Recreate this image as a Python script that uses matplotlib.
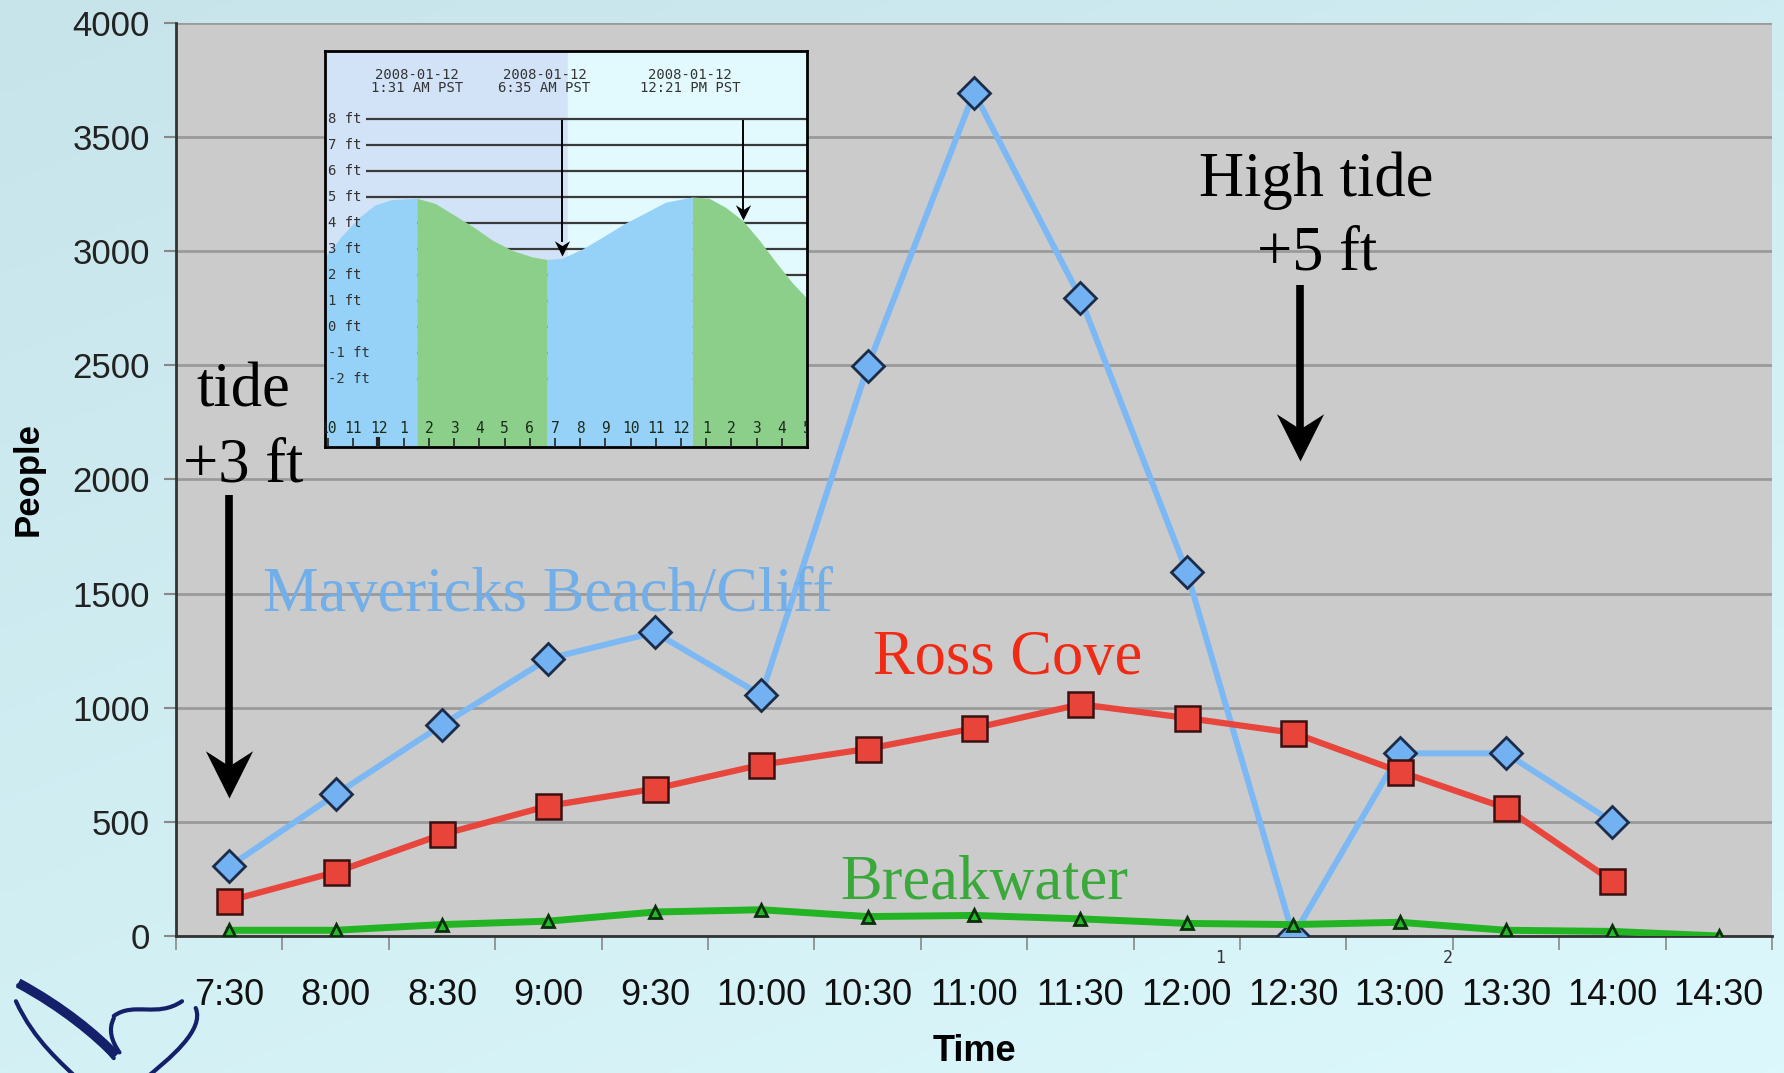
import numpy as np
import matplotlib
matplotlib.use('Agg')
import matplotlib.pyplot as plt
from matplotlib.path import Path
from matplotlib.patches import PathPatch
from matplotlib.colors import LinearSegmentedColormap

# ---- data ----
times = ['7:30', '8:00', '8:30', '9:00', '9:30', '10:00', '10:30', '11:00',
         '11:30', '12:00', '12:30', '13:00', '13:30', '14:00', '14:30']
mavericks = [305, 620, 925, 1215, 1330, 1055, 2495, 3695, 2795, 1595, 0, 800, 800, 500]
ross_cove = [155, 280, 445, 570, 645, 750, 820, 910, 1015, 955, 890, 720, 560, 240]
breakwater = [25, 25, 50, 65, 105, 115, 85, 90, 75, 55, 50, 60, 25, 20, 0]

# tide inset (hours from midnight, feet)
tide_hours = [-2.12, -1.46, -0.79, -0.13, 0.53, 1.52, 2.25, 3.18, 3.84, 4.5, 5.3, 6.09, 6.69,
              7.28, 8.08, 8.87, 9.8, 10.6, 11.39, 12.45, 13.11, 13.77, 14.44, 15.1, 15.76,
              16.42, 17.0]
tide_ft = [2.7, 3.5, 4.2, 4.7, 4.9, 4.95, 4.75, 4.2, 3.8, 3.35, 2.95, 2.7, 2.6,
           2.65, 3.0, 3.45, 4.0, 4.4, 4.8, 5.0, 4.95, 4.6, 4.1, 3.35, 2.5,
           1.7, 1.1]
tide_turns = [1.52, 6.69, 12.45]
tide_dates = ['2008-01-12\n1:31 AM PST', '2008-01-12\n6:35 AM PST', '2008-01-12\n12:21 PM PST']
tide_date_hours = [1.52, 6.58, 12.35]
ft_levels = [8, 7, 6, 5, 4, 3, 2, 1, 0, -1, -2]
hour_ticks = list(range(-2, 18))
hour_labels = [str((h - 1) % 12 + 1) for h in hour_ticks]

BLUE = '#7cb8f4'
RED = '#e8453c'
GREEN = '#22b422'

fig = plt.figure(figsize=(17.84, 10.73), dpi=100)

# background gradient
bg = fig.add_axes([0, 0, 1, 1], zorder=-10)
gx, gy = np.meshgrid(np.linspace(0, 1, 200), np.linspace(0, 1, 200))
grad = 0.6 * gy + 0.4 * (1 - gx)
cmap_bg = LinearSegmentedColormap.from_list('bg', ['#dcf8fc', '#c6e4ea'])
bg.imshow(grad, cmap=cmap_bg, aspect='auto', extent=[0, 1, 0, 1], origin='lower')
bg.axis('off')

ax = fig.add_axes([0.0987, 0.1277, 0.8946, 0.8509])
ax.set_facecolor('#cbcbcb')
x = np.arange(len(times))

ax.plot(x[:len(mavericks)], mavericks, color=BLUE, lw=4.3, marker='D', ms=16,
        mfc='#72b2f2', mec='#1c2c48', mew=2, zorder=3)
ax.plot(x[:len(ross_cove)], ross_cove, color=RED, lw=4.5, marker='s', ms=18,
        mfc='#e8443a', mec='#3a1010', mew=1.8, zorder=4)
ax.plot(x, breakwater, color=GREEN, lw=5, marker='^', ms=9,
        mfc='#2cb82c', mec='#0a300a', mew=2, zorder=5)

ax.set_xlim(-0.5, 14.5)
ax.set_ylim(0, 4000)
ax.set_yticks(np.arange(0, 4001, 500))
ax.set_xticks(x)
ax.set_xticklabels(times, family='Liberation Sans', fontsize=26, color='#111111')
ax.set_xticks(np.arange(-0.5, 14.6, 1), minor=True)
ax.tick_params(axis='x', which='major', length=0, pad=30)
ax.tick_params(axis='x', which='minor', length=10, color='#888888', width=1.2)
ax.tick_params(axis='y', length=9, color='#888888', width=1.5, pad=10,
               labelsize=25, labelcolor='#222222')
for lab in ax.get_yticklabels():
    lab.set_family('Liberation Sans')
ax.grid(axis='y', color='#9a9a9a', lw=2)
ax.set_axisbelow(True)
for s in ['top', 'right']:
    ax.spines[s].set_visible(False)
for s in ['left', 'bottom']:
    ax.spines[s].set_color('#333333')
    ax.spines[s].set_linewidth(2)

ax.set_ylabel('People', fontsize=25, fontweight='bold', family='Liberation Sans')
ax.yaxis.set_label_coords(-0.093, 0.5)
ax.yaxis.label.set_va('center')
ax.set_xlabel('Time', fontsize=26, fontweight='bold', family='Liberation Sans')
ax.xaxis.set_label_coords(0.5, -0.127)
ax.xaxis.label.set_va('center')

# small stray labels under the axis
for xv, t in [(9.31, '1'), (11.45, '2')]:
    ax.text(xv, -0.024, t, transform=ax.get_xaxis_transform(), ha='center', va='center',
            fontsize=12, color='#333333', family='DejaVu Sans Mono')

# series annotations
serif = 'Liberation Serif'
ax.text(0.32, 1425, 'Mavericks Beach/Cliff', color='#72aee8', fontsize=45, family=serif,
        ha='left', va='baseline', zorder=6)
ax.text(6.05, 1146, 'Ross Cove', color='#f02a14', fontsize=45, family=serif,
        ha='left', va='baseline', zorder=6)
ax.text(5.74, 164, 'Breakwater', color='#3aa83a', fontsize=45, family=serif,
        ha='left', va='baseline', zorder=6)
ax.text(10.22, 3243, 'High tide', color='black', fontsize=45, family=serif,
        ha='center', va='baseline', zorder=6)
ax.text(10.22, 2919, '+5 ft', color='black', fontsize=45, family=serif,
        ha='center', va='baseline', zorder=6)
ax.text(0.13, 2321, 'tide', color='black', fontsize=45, family=serif,
        ha='center', va='baseline', zorder=6)
ax.text(0.13, 1993, '+3 ft', color='black', fontsize=45, family=serif,
        ha='center', va='baseline', zorder=6)

# concave arrow head marker, tip at origin pointing down
head = Path([(0, 0), (-0.5, 1.0), (0, 0.68), (0.5, 1.0), (0, 0)],
            [Path.MOVETO, Path.LINETO, Path.LINETO, Path.LINETO, Path.CLOSEPOLY])


def big_arrow(a, xv, y0, y1, ms, lw):
    a.plot([xv, xv], [y0, y1 + (y0 - y1) * 0.1], color='black', lw=lw,
           solid_capstyle='butt', zorder=7)
    a.plot([xv], [y1], marker=head, ms=ms, color='black', mew=0, zorder=7)


big_arrow(ax, 0.0, 1933, 603, 68, 5.5)
big_arrow(ax, 10.06, 2854, 2082, 68, 5.5)

# ---- tide inset ----
ins = fig.add_axes([0.1822, 0.5834, 0.2702, 0.369], zorder=8)
th = np.array(tide_hours)
tf = np.array(tide_ft)
ins.set_xlim(th[0], th[-1])
ins.set_ylim(-4.6, 10.6)
ins.axvspan(th[0], 7.5, color='#d3e3f7', zorder=0)
ins.axvspan(7.5, th[-1], color='#e2fafe', zorder=0)
ins.hlines(ft_levels, -0.5, th[-1], color='#3a3a3a', lw=1.6, zorder=1)
t1, t2, t3 = tide_turns
ins.fill_between(th, -4.6, tf, where=th <= t1, color='#96d2f8', lw=0, zorder=2)
ins.fill_between(th, -4.6, tf, where=(th >= t1) & (th <= t2), color='#8ccf8a', lw=0, zorder=2)
ins.fill_between(th, -4.6, tf, where=(th >= t2) & (th <= t3), color='#96d2f8', lw=0, zorder=2)
ins.fill_between(th, -4.6, tf, where=th >= t3, color='#8ccf8a', lw=0, zorder=2)
for lv in ft_levels:
    ins.text(th[0] + 0.1, lv, f'{lv} ft', fontsize=10, family='DejaVu Sans Mono',
             color='#333333', ha='left', va='center', zorder=3)
for hv, lab in zip(tide_date_hours, tide_dates):
    ins.text(hv, 9.43, lab, fontsize=10, family='DejaVu Sans Mono', color='#333333',
             ha='center', va='center', linespacing=0.95, zorder=3)
for hv, lab in zip(hour_ticks, hour_labels):
    ins.text(hv, -3.9, lab, fontsize=10.5, family='DejaVu Sans Mono', color='#1a2a1a',
             ha='center', va='center', zorder=3, clip_on=True)
ins.vlines(hour_ticks, -4.6, -4.25, color='#222222', lw=1.2, zorder=3)
ins.vlines([0], -4.6, -4.2, color='#222222', lw=3, zorder=3)
big_arrow(ins, 7.28, 7.95, 2.75, 22, 1.4)
big_arrow(ins, 14.44, 7.95, 4.1, 22, 1.4)
ins.set_xticks([])
ins.set_yticks([])
for s in ins.spines.values():
    s.set_color('black')
    s.set_linewidth(2)

# ---- whale tail logo (rough) ----
sc = 1784 / 1568


def fpt(px, py):
    return (px * sc / 1784, 1 - py * sc / 1073)


logo_paths = [
    [(16, 866), (50, 880), (80, 905), (100, 930)],
    [(14, 880), (30, 915), (55, 935), (70, 950)],
    [(100, 893), (118, 880), (138, 895), (160, 880)],
    [(172, 886), (180, 905), (150, 930), (125, 950)],
    [(100, 895), (95, 905), (98, 915), (105, 925)],
]
for pts in logo_paths:
    verts = [fpt(*p) for p in pts]
    pp = Path(verts, [Path.MOVETO, Path.CURVE4, Path.CURVE4, Path.CURVE4])
    fig.add_artist(PathPatch(pp, transform=fig.transFigure, fill=False,
                             ec='#14206a', lw=3, capstyle='round'))
fig.add_artist(PathPatch(Path([fpt(16, 864), fpt(55, 885), fpt(85, 910), fpt(102, 928)],
                              [Path.MOVETO, Path.CURVE4, Path.CURVE4, Path.CURVE4]),
                         transform=fig.transFigure, fill=False, ec='#14206a', lw=7))

fig.savefig('out.png', dpi=100)
